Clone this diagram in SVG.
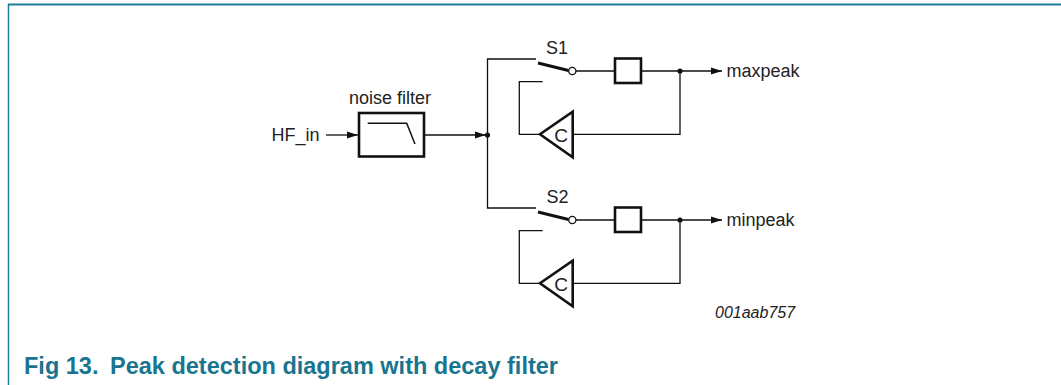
<svg xmlns="http://www.w3.org/2000/svg" width="1061" height="385" viewBox="0 0 1061 385">
<defs>
<marker id="arr" markerUnits="userSpaceOnUse" markerWidth="12" markerHeight="10" refX="11" refY="4" orient="auto">
<path d="M0,0.5 L11,4 L0,7.5 Z" fill="#111"/>
</marker>
<style>
.ln{fill:none;stroke:#111;stroke-width:1.3}
.bx{fill:#fff;stroke:#111;stroke-width:2.6}
.lbl{font-family:"Liberation Sans",Arial,sans-serif;font-size:18px;fill:#222}
.dot{fill:#111}
</style>
</defs>
<rect width="1061" height="385" fill="#fff"/>
<g id="frame">
<line x1="8" y1="4.5" x2="1061" y2="4.5" stroke="#1f7f98" stroke-width="1.8"/>
<line x1="8.5" y1="4" x2="8.5" y2="385" stroke="#1f7f98" stroke-width="1.5"/>
</g>
<g id="connectors">
<line class="ln" x1="326" y1="135" x2="358" y2="135" marker-end="url(#arr)"/>
<line class="ln" x1="424" y1="135" x2="486" y2="135" marker-end="url(#arr)"/>
<polyline class="ln" points="536,59 487.5,59 487.5,208 536,208"/>
<line class="ln" x1="576" y1="71" x2="615" y2="71"/>
<line class="ln" x1="641" y1="71" x2="722" y2="71" marker-end="url(#arr)"/>
<polyline class="ln" points="680,71 680,134.3 573,134.3"/>
<polyline class="ln" points="540,134.3 519.3,134.3 519.3,81.7 542.7,81.7"/>
<line class="ln" x1="576" y1="220" x2="615" y2="220"/>
<line class="ln" x1="641" y1="220" x2="722" y2="220" marker-end="url(#arr)"/>
<polyline class="ln" points="680,220 680,283.3 573,283.3"/>
<polyline class="ln" points="540,283.3 519.3,283.3 519.3,230.7 542.7,230.7"/>
<circle class="dot" cx="487.5" cy="135" r="2.6"/>
<circle class="dot" cx="680" cy="71" r="2.6"/>
<circle class="dot" cx="680" cy="220" r="2.6"/>
</g>
<g id="hf_in">
<text class="lbl" x="271.5" y="141">HF_in</text>
</g>
<g id="noise_filter">
<text class="lbl" x="349" y="104">noise filter</text>
<rect class="bx" x="359" y="113" width="65" height="43.5"/>
<polyline fill="none" stroke="#111" stroke-width="1.5" points="367.7,123.3 406.7,123.3 415,144"/>
</g>
<g id="s1">
<text class="lbl" x="546" y="53.5">S1</text>
<line x1="538" y1="63" x2="568.5" y2="70.5" stroke="#111" stroke-width="3"/>
<circle cx="572.3" cy="71" r="3.6" fill="#fff" stroke="#111" stroke-width="1.3"/>
</g>
<g id="hold1">
<rect class="bx" x="615" y="58.5" width="26" height="24.5"/>
</g>
<g id="c1">
<polygon class="bx" points="572.7,111.7 572.7,157.3 540,134.3"/>
<text class="lbl" x="561" y="141.5" text-anchor="middle" style="font-size:19px">C</text>
</g>
<g id="maxpeak">
<text class="lbl" x="726.5" y="77">maxpeak</text>
</g>
<g id="s2">
<text class="lbl" x="546.5" y="202.5">S2</text>
<line x1="538" y1="212" x2="568.5" y2="219.5" stroke="#111" stroke-width="3"/>
<circle cx="572.3" cy="220" r="3.6" fill="#fff" stroke="#111" stroke-width="1.3"/>
</g>
<g id="hold2">
<rect class="bx" x="615" y="207.5" width="26" height="24.5"/>
</g>
<g id="c2">
<polygon class="bx" points="572.7,260.7 572.7,306.3 540,283.3"/>
<text class="lbl" x="561" y="290.5" text-anchor="middle" style="font-size:19px">C</text>
</g>
<g id="minpeak">
<text class="lbl" x="726.5" y="226">minpeak</text>
</g>
<text x="715" y="318" style="font-family:'Liberation Sans',Arial,sans-serif;font-size:16px;font-style:italic;fill:#222">001aab757</text>
<text x="24" y="374" style="font-family:'Liberation Sans',Arial,sans-serif;font-size:23.5px;font-weight:bold;fill:#19758f">Fig 13.<tspan x="110">Peak detection diagram with decay filter</tspan></text>
</svg>
